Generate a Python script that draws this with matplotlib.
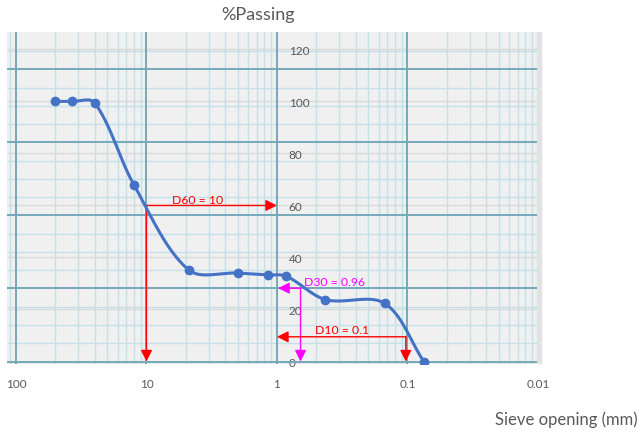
import numpy as np
import matplotlib.pyplot as plt
from matplotlib.ticker import FixedLocator, FixedFormatter

# sieve analysis data (mm, % passing)
sieve_mm = [50, 37.5, 25, 12.5, 4.75, 2, 1.18, 0.85, 0.425, 0.15, 0.075]
passing = [100, 100, 99.5, 68, 35.2, 34, 33.3, 32.8, 23.8, 22.4, 0]

# characteristic diameters drawn as arrows
d_names = ['D60 = 10', 'D30 = 0.96', 'D10 = 0.1']
d_x = [10, 0.66, 0.103]
d_y = [60, 28.2, 9.5]
d_tip_x = [1.0, 0.98, 1.0]
d_colors = ['#FF0000', '#FF00FF', '#FF0000']
d_text_pos = [(4.07, 62.3, 'center'), (0.62, 30.6, 'left'), (0.51, 12.2, 'left')]

x_ticks = [100, 10, 1, 0.1, 0.01]
x_tick_labels = ['100', '10', '1', '0.1', '0.01']
y_ticks = [0, 20, 40, 60, 80, 100, 120]

plt.rcParams['font.family'] = ['Lato', 'DejaVu Sans']
grey_txt = '#595959'

fig = plt.figure(figsize=(6.4, 4.35), dpi=100)
ax = fig.add_axes([7 / 640, 70 / 435, 539 / 640, 332 / 435])
ax.set_xscale('log')
x_left, x_paper_right, x_right = 117.2, 0.0102, 0.00868
ax.set_xlim(x_left, x_right)
ax.set_ylim(-0.96, 126.7)
ax.set_facecolor('none')

# graph paper background
ax.axvspan(x_left, x_paper_right, color='#F0F0F0', zorder=0)
ax.axvspan(x_paper_right, 0.0094, color='#E2E2E2', zorder=0)
for L in [1000, 100, 10, 1, 0.1]:
    for k in range(1, 10):
        v = L / k
        if x_paper_right <= v <= x_left:
            if k == 1:
                ax.axvline(v, color='#74A9B9', lw=1.4, zorder=2)
            else:
                ax.axvline(v, color='#C4E0E8', lw=1.0, zorder=1)
step = 28.08 / 4
for j in range(18):
    if j % 4 == 0:
        ax.hlines(j * step, x_left, x_paper_right, color='#74A9B9', lw=1.4, zorder=2)
    else:
        ax.hlines(j * step, x_left, x_paper_right, color='#C4E0E8', lw=1.0, zorder=1)

# excel gridlines
ax.hlines(y_ticks, x_left, x_paper_right, color='#D9D9D9', lw=1.0, zorder=1.5)

# smoothed line: bezier through the points, arms scaled by segment length
sx, sy = 130.5, 2.6  # px per decade / px per percent
P = np.column_stack([np.log10(sieve_mm) * sx, np.array(passing, float) * sy])
ext = np.vstack([P[0], P, P[-1]])
t = np.linspace(0, 1, 40)[:, None]
curve = []
for i in range(len(P) - 1):
    p0, p1, p2, p3 = ext[i], ext[i + 1], ext[i + 2], ext[i + 3]
    d01 = np.hypot(*(p1 - p0))
    d12 = np.hypot(*(p2 - p1))
    d23 = np.hypot(*(p3 - p2))
    c1 = p1 + (p2 - p0) * d12 / max(d01 + d12, 1e-9) / 3 * 1.0
    c2 = p2 - (p3 - p1) * d12 / max(d12 + d23, 1e-9) / 3 * 1.0
    seg = (1 - t) ** 3 * p1 + 3 * (1 - t) ** 2 * t * c1 + 3 * (1 - t) * t ** 2 * c2 + t ** 3 * p2
    curve.append(seg)
curve = np.vstack(curve)
ax.plot(10 ** (curve[:, 0] / sx), curve[:, 1] / sy, color='#4472C4', lw=2.2, zorder=6, solid_capstyle='round')
ax.plot(sieve_mm, passing, 'o', color='#4472C4', markersize=6, zorder=7)

# D arrows
for name, x, y, tx, c, (lab_x, lab_y, ha) in zip(d_names, d_x, d_y, d_tip_x, d_colors, d_text_pos):
    props = dict(arrowstyle='-|>', color=c, lw=1.0, mutation_scale=17, shrinkA=0, shrinkB=0)
    ax.annotate('', xy=(tx, y), xytext=(x, y), arrowprops=props, zorder=5)
    ax.annotate('', xy=(x, 0), xytext=(x, y), arrowprops=props, zorder=5)
    ax.text(lab_x, lab_y, name, color=c, fontsize=8.8, ha=ha, va='center', zorder=8)

# axes: y axis crosses at x = 1
for s in ['top', 'bottom', 'left']:
    ax.spines[s].set_visible(False)
ax.spines['right'].set_position(('data', 1))
ax.spines['right'].set_visible(False)
ax.yaxis.tick_right()
ax.yaxis.set_major_locator(FixedLocator(y_ticks))
ax.yaxis.set_minor_locator(FixedLocator([]))
ax.tick_params(axis='y', length=0, pad=8.5, labelsize=8.5, labelcolor=grey_txt)
ax.xaxis.set_major_locator(FixedLocator(x_ticks))
ax.xaxis.set_major_formatter(FixedFormatter(x_tick_labels))
ax.xaxis.set_minor_locator(FixedLocator([]))
ax.tick_params(axis='x', length=0, pad=10, labelsize=8.5, labelcolor=grey_txt)

fig.text(258 / 640, 1 - 15 / 435, '%Passing', fontsize=13, color=grey_txt, ha='center', va='center')
fig.text(638 / 640, 1 - 420 / 435, 'Sieve opening (mm)', fontsize=12, color=grey_txt, ha='right', va='center')

fig.savefig('out.png', dpi=100)
